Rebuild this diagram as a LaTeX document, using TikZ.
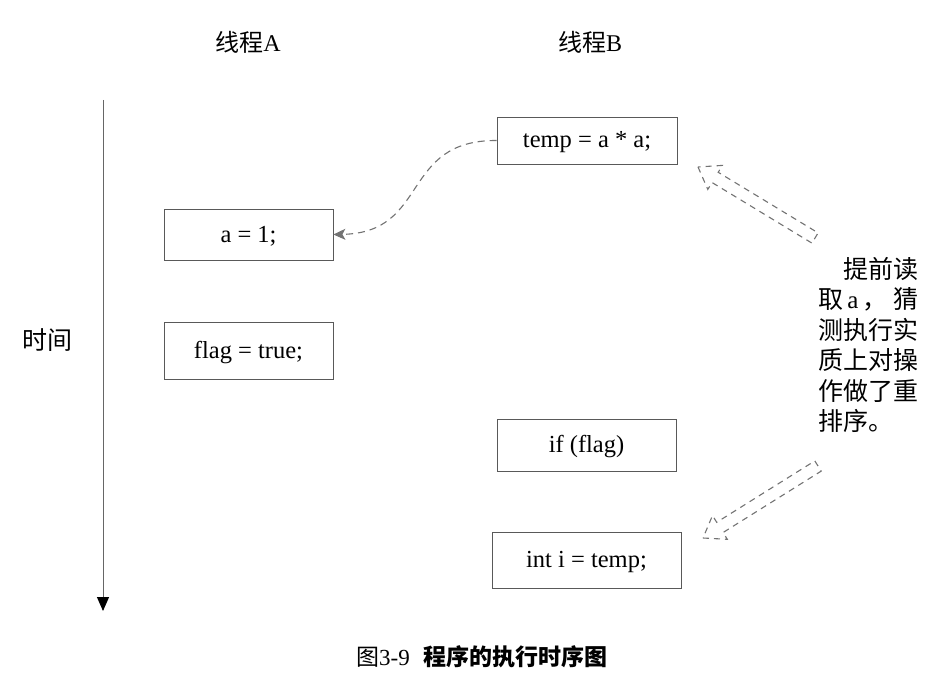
\documentclass[tikz,border=0pt]{standalone}
\usepackage{fontspec}
\setmainfont{Liberation Serif}
\newfontfamily\cjk{Noto Sans CJK SC}
\usetikzlibrary{arrows.meta}
\begin{document}
\begin{tikzpicture}[x=1pt,y=-1pt,
  codebox/.style={draw=black!65, line width=0.8pt, minimum width=#1, inner sep=0pt, text height=15pt, text depth=0pt, font=\fontsize{24.5}{28}\selectfont},
  hdr/.style={font=\fontsize{24}{28}\selectfont},
  blockarrow/.style={draw=black!55, dash pattern=on 6pt off 5pt, line width=1.1pt}
]
\useasboundingbox (0,0) rectangle (939,679);

% headers
\node[hdr] (hA) at (248,42) {{\cjk 线程}A};
\node[hdr] (hB) at (590,42) {{\cjk 线程}B};

% time axis
\coordinate (axT) at (103,100);
\coordinate (axB) at (103,611);
\draw[black!60, line width=1pt, -{Triangle[length=14pt,width=12pt,fill=black,color=black]}] (axT) -- (axB);
\node[font=\fontsize{25}{28}\selectfont] (time) at (47,340) {\cjk 时间};

% boxes
\node[codebox=169pt, minimum height=51pt] (a1) at (248.5,234.5) {a = 1;};
\node[codebox=169pt, minimum height=57pt] (flag) at (248.5,350.5) {flag = true;};
\node[codebox=180pt, minimum height=47pt] (temp) at (587,140.5) {temp = a * a;};
\node[codebox=179pt, minimum height=52pt] (iff) at (586.5,445) {if (flag)};
\node[codebox=189pt, minimum height=56pt] (inti) at (586.5,560) {int i = temp;};

% dashed curved arrow
\draw[black!55, line width=1.1pt, dash pattern=on 7pt off 5pt, -{Stealth[length=12pt,width=11pt,inset=3pt]}]
  (temp.west) .. controls (400,140) and (430,233) .. (a1.east);

% upper hollow block arrow
\draw[blockarrow] (698,167) -- (707.8,189.4) -- (712.0,182.5) -- (811.9,243.1)
  -- (818.1,232.9) -- (718.2,172.3) -- (722.4,165.4) -- cycle;
% lower hollow block arrow
\draw[blockarrow] (703,538) -- (727.3,539.3) -- (723.1,532.5) -- (821.2,471.1)
  -- (814.8,460.9) -- (716.7,522.3) -- (712.5,515.5) -- cycle;

% side note
\node[anchor=north west, align=left, inner sep=0pt, font=\fontsize{25}{30.5}\selectfont] (note) at (818,257)
 {\cjk 　提前读\\
  {\cjk 取}\,a\,{\cjk ，\hspace{6pt}猜}\\
  \cjk 测执行实\\
  \cjk 质上对操\\
  \cjk 作做了重\\
  \cjk 排序。};

% caption
\node[font=\fontsize{23}{26}\selectfont] (cap) at (482,657)
 {{\cjk 图}3-9\hspace{14pt}{\cjk\bfseries 程序的执行时序图}};
\end{tikzpicture}
\end{document}
